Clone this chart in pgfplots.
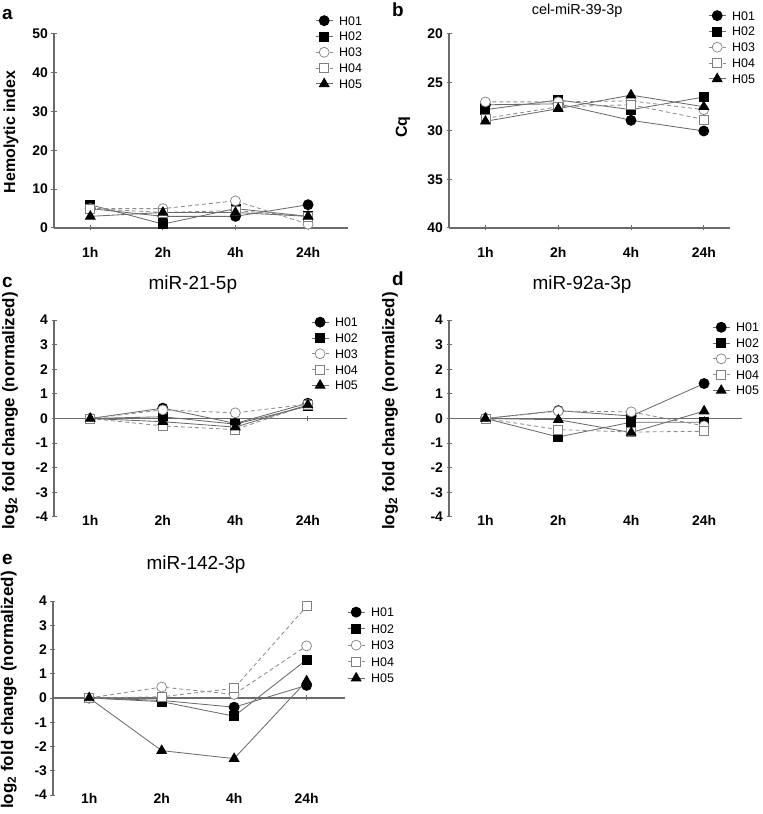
\documentclass[border=0pt]{standalone}
\usepackage{fontspec}
\setmainfont{Liberation Sans}
\usepackage{pgfplots}
\pgfplotsset{compat=1.18}

\definecolor{axgray}{gray}{0.42}
\definecolor{lngray}{gray}{0.42}
\definecolor{dsgray}{gray}{0.55}
\definecolor{mkgray}{gray}{0.5}

\pgfplotsset{
  panel/.style={
    scale only axis,
    clip=false,
    enlargelimits=false,
    xmin=-0.5,
    xtick={0,1,2,3}, xticklabels={1h,2h,4h,24h},
    axis line style={axgray, line width=1.1pt},
    tick style={axgray, line width=1.0pt},
    major tick length=5bp,
    tick align=outside,
    tick label style={font=\fontsize{14}{14}\selectfont\bfseries},
    ylabel style={font=\fontsize{16}{17}\selectfont\bfseries, anchor=center},
    title style={font=\fontsize{19}{19}\selectfont, anchor=center, yshift=0pt},
    legend style={draw=none, fill=none, anchor=north west,
      font=\fontsize{12.5}{13}\selectfont,
      inner sep=0pt, row sep=4.8bp,
      nodes={inner sep=1bp, text height=9bp, text depth=0bp},
      /tikz/every odd column/.append style={column sep=5bp}},
    /pgf/number format/assume math mode=true,
  },
  noarrow/.style={x axis line style={-}, y axis line style={-}},
  lowpanel/.style={
    panel,
    axis x line=middle, axis y line=left,
    hide obscured y ticks=false,
    ymin=-4, ymax=4, ytick={-4,-3,-2,-1,0,1,2,3,4},
    yticklabels={-4,-3,-2,-1,0,1,2,3,4},
    xticklabel style={anchor=center, yshift=#1},
    ylabel style={font=\fontsize{17}{18}\selectfont\bfseries},
    ylabel={log\textsubscript{2} fold change (normalized)},
  },
  h01/.style={lngray, solid, line width=0.85pt, mark=*, mark size=5bp, mark options={solid, draw=black, fill=black}},
  h02/.style={lngray, solid, line width=0.85pt, mark=square*, mark size=4.5bp, mark options={solid, draw=black, fill=black}},
  h03/.style={dsgray, dash pattern=on 4bp off 3bp, line width=0.85pt, mark=*, mark size=5bp, mark options={solid, draw=mkgray, fill=white, line width=0.7pt}},
  h04/.style={dsgray, dash pattern=on 4bp off 3bp, line width=0.85pt, mark=square*, mark size=4.5bp, mark options={solid, draw=mkgray, fill=white, line width=0.7pt}},
  h05/.style={lngray, solid, line width=0.85pt, mark=triangle*, mark size=5.5bp, mark options={solid, draw=black, fill=black}},
}

\begin{document}
\begin{tikzpicture}
\useasboundingbox (0,0) rectangle (763bp,814bp);

% ---------- panel a ----------
\begin{axis}[panel,
  at={(54bp,586bp)}, anchor=south west,
  width=294bp, height=194bp,
  xmax=3.55,
  axis lines=left,
  ymin=0, ymax=50, ytick={0,10,20,30,40,50},
  xticklabel style={anchor=center, yshift=-22bp},
  ylabel={Hemolytic index},
  ylabel style={at={(axis description cs:-0.146,0.495)}},
  legend style={at={(axis description cs:0.888,1.098)}},
  noarrow,
]
\addplot[h01] coordinates {(0,5) (1,3) (2,3) (3,6)};
\addplot[h02] coordinates {(0,6) (1,1) (2,5) (3,3)};
\addplot[h03] coordinates {(0,5) (1,5) (2,7) (3,1)};
\addplot[h04] coordinates {(0,5) (1,4) (2,4.5) (3,3)};
\addplot[h05] coordinates {(0,3) (1,4) (2,4) (3,3)};
\legend{H01,H02,H03,H04,H05}
\end{axis}

% ---------- panel b ----------
\begin{axis}[panel,
  at={(449bp,586bp)}, anchor=south west,
  width=281bp, height=194bp,
  xmax=3.36,
  axis lines=left,
  y dir=reverse,
  ymin=20, ymax=40, ytick={20,25,30,35,40},
  xticklabel style={anchor=center, yshift=-22bp},
  ylabel={Cq},
  ylabel style={at={(axis description cs:-0.164,0.52)}},
  title={cel-miR-39-3p},
  title style={at={(axis description cs:0.456,1.088)}, font=\fontsize{14.5}{15}\selectfont},
  legend style={at={(axis description cs:0.922,1.124)}},
  noarrow,
]
\addplot[h01] coordinates {(0,27.3) (1,27.2) (2,28.9) (3,30.0)};
\addplot[h02] coordinates {(0,27.8) (1,26.8) (2,27.8) (3,26.5)};
\addplot[h03] coordinates {(0,27.0) (1,27.0) (2,26.9) (3,27.8)};
\addplot[h04] coordinates {(0,28.7) (1,27.5) (2,27.3) (3,28.8)};
\addplot[h05] coordinates {(0,29.0) (1,27.7) (2,26.3) (3,27.5)};
\legend{H01,H02,H03,H04,H05}
\end{axis}

% ---------- panel c ----------
\begin{axis}[lowpanel=-99bp,
  at={(54bp,297bp)}, anchor=south west,
  width=293bp, height=197bp,
  xmax=3.54,
  ylabel style={at={(axis description cs:-0.150,0.538)}},
  title={miR-21-5p},
  title style={at={(axis description cs:0.474,1.147)}},
  legend style={at={(axis description cs:0.877,1.018)}},
  noarrow,
]
\addplot[h01] coordinates {(0,0) (1,0.42) (2,-0.2) (3,0.62)};
\addplot[h02] coordinates {(0,0) (1,0.07) (2,-0.23) (3,0.5)};
\addplot[h03] coordinates {(0,0) (1,0.35) (2,0.23) (3,0.58)};
\addplot[h04] coordinates {(0,0) (1,-0.3) (2,-0.45) (3,0.55)};
\addplot[h05] coordinates {(0,0) (1,-0.13) (2,-0.35) (3,0.55)};
\legend{H01,H02,H03,H04,H05}
\end{axis}

% ---------- panel d ----------
\begin{axis}[lowpanel=-99bp,
  at={(449bp,297bp)}, anchor=south west,
  width=293bp, height=197bp,
  xmax=3.52,
  ylabel style={at={(axis description cs:-0.201,0.538)}},
  title={miR-92a-3p},
  title style={at={(axis description cs:0.454,1.147)}},
  legend style={at={(axis description cs:0.898,0.992)}},
  noarrow,
]
\addplot[h01] coordinates {(0,0) (1,0.32) (2,0.1) (3,1.42)};
\addplot[h02] coordinates {(0,0) (1,-0.75) (2,-0.15) (3,-0.15)};
\addplot[h03] coordinates {(0,0) (1,0.3) (2,0.27) (3,-0.3)};
\addplot[h04] coordinates {(0,0) (1,-0.45) (2,-0.55) (3,-0.52)};
\addplot[h05] coordinates {(0,0) (1,-0.05) (2,-0.57) (3,0.3)};
\legend{H01,H02,H03,H04,H05}
\end{axis}

% ---------- panel e ----------
\begin{axis}[lowpanel=-98bp,
  at={(53bp,19bp)}, anchor=south west,
  width=292bp, height=194bp,
  xmax=3.53,
  ylabel style={at={(axis description cs:-0.151,0.541)}},
  title={miR-142-3p},
  title style={at={(axis description cs:0.49,1.155)}},
  legend style={at={(axis description cs:1.007,0.972)}, row sep=5.5bp},
  noarrow,
]
\addplot[h01] coordinates {(0,0) (1,-0.1) (2,-0.38) (3,0.52)};
\addplot[h02] coordinates {(0,0) (1,-0.15) (2,-0.75) (3,1.58)};
\addplot[h03] coordinates {(0,0) (1,0.45) (2,0.15) (3,2.15)};
\addplot[h04] coordinates {(0,0) (1,0.05) (2,0.4) (3,3.78)};
\addplot[h05] coordinates {(0,0) (1,-2.17) (2,-2.5) (3,0.7)};
\legend{H01,H02,H03,H04,H05}
\end{axis}

% panel letters
\node[anchor=base west, inner sep=0pt, font=\fontsize{19}{19}\selectfont\bfseries] at (2bp,794bp) {a};
\node[anchor=base west, inner sep=0pt, font=\fontsize{19}{19}\selectfont\bfseries] at (392bp,797bp) {b};
\node[anchor=base west, inner sep=0pt, font=\fontsize{19}{19}\selectfont\bfseries] at (2bp,526bp) {c};
\node[anchor=base west, inner sep=0pt, font=\fontsize{19}{19}\selectfont\bfseries] at (392bp,528bp) {d};
\node[anchor=base west, inner sep=0pt, font=\fontsize{19}{19}\selectfont\bfseries] at (2bp,249bp) {e};
\end{tikzpicture}
\end{document}
